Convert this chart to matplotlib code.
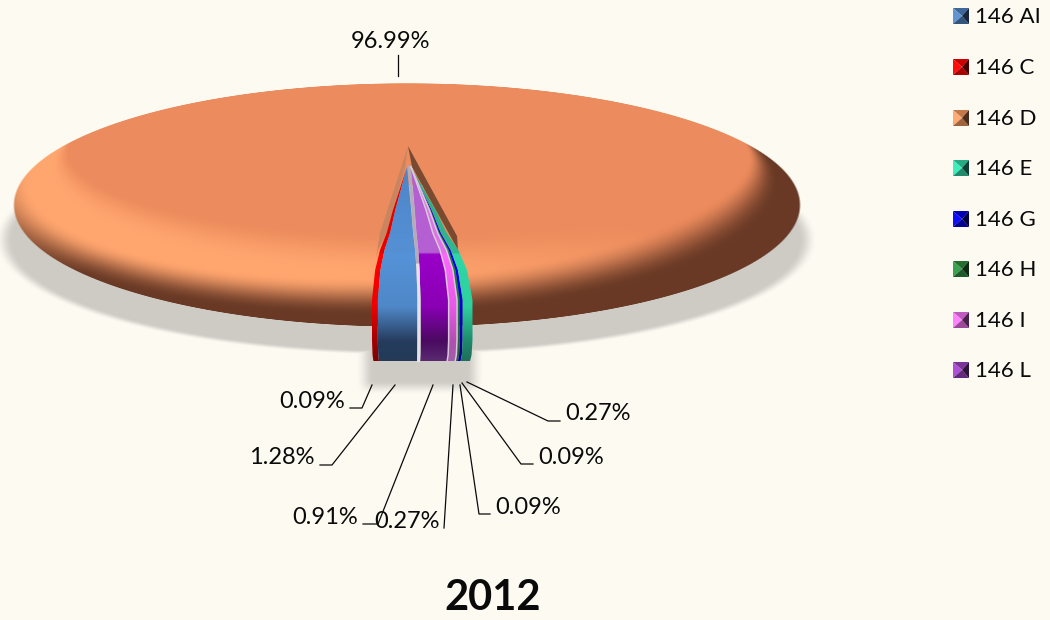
import numpy as np
import matplotlib
matplotlib.use("Agg")
import matplotlib.pyplot as plt
from matplotlib.colors import LinearSegmentedColormap, to_rgb
from matplotlib.patches import Polygon

plt.rcParams["font.family"] = ["Lato", "DejaVu Sans"]

series = ["146 AI", "146 C", "146 D", "146 E", "146 G", "146 H", "146 I", "146 L"]
shares = [1.28, 0.09, 96.99, 0.27, 0.09, 0.09, 0.27, 0.91]
legend_colors = ["#4f81bd", "#ff0000", "#f79660", "#2fd6a6", "#0000e0", "#2e8b40", "#f070f0", "#9a40c0"]
title = "2012"

# small slices, left to right along the front of the pie
front_order = ["146 C", "146 AI", "146 L", "146 I", "146 H", "146 G", "146 E"]
slice_stops = {
    "146 C": ["#e00000", "#e80000", "#ff0000", "#f00000", "#a00000", "#800000"],
    "146 AI": ["#4f85c8", "#5590d5", "#5592d8", "#4f88c8", "#263c5e", "#243a58"],
    "146 L": ["#b45fd2", "#b45fd2", "#9a00c8", "#8a00b4", "#4a0a60", "#5a2a70"],
    "146 I": ["#d77ae0", "#e070e8", "#ff66ff", "#e858e8", "#b050b0", "#a060a8"],
    "146 H": ["#2e8b40", "#2e8b40", "#1f7a30", "#1f7a30", "#2c5a35", "#2c5a35"],
    "146 G": ["#1010d8", "#1010d8", "#0000ff", "#0000e8", "#0000a0", "#0000a0"],
    "146 E": ["#2fa888", "#2fb890", "#2fd6a6", "#2fd0a0", "#1d8a6c", "#1f6e5a"],
}
end_pad = {"146 C": 3.0, "146 E": 1.5}

BG = "#fdfaf2"
INK = "#0a0a0a"
W, H = 1050, 620


def smooth(a, b, x):
    t = np.clip((x - a) / (b - a), 0, 1)
    return t * t * (3 - 2 * t)


fig = plt.figure(figsize=(W / 100, H / 100), dpi=100, facecolor=BG)
ax = fig.add_axes([0, 0, 1, 1])
ax.set_axis_off()

xx, yy = np.meshgrid(np.arange(W) + 0.5, np.arange(H) + 0.5)

# soft shadow under the disc and under the small slices
shadow = smooth(-0.02, 0.025, 1 - np.hypot((xx - 406) / 403, (yy - 240) / 113))
shadow2 = smooth(356, 374, xx) * smooth(484, 466, xx) * smooth(395, 380, yy) * smooth(340, 350, yy)
tex = np.zeros((H, W, 4))
tex[..., :3] = to_rgb("#cdcbc4")
tex[..., 3] = np.maximum(shadow, shadow2)
ax.imshow(tex, extent=(0, W, H, 0), aspect="auto", zorder=1)

# main slice: flat top with a bevelled rim
cx, cy, rx, ry = 407, 205, 394, 122
x0, y0, a, b = 405, 150, 335, 80
dx, dy = xx - x0, yy - y0
rho_in = np.hypot(dx / a, dy / b) + 1e-6
s_in = 1 / rho_in
qa = (dx / rx) ** 2 + (dy / ry) ** 2 + 1e-9
qb = 2 * ((x0 - cx) * dx / rx**2 + (y0 - cy) * dy / ry**2)
qc = ((x0 - cx) / rx) ** 2 + ((y0 - cy) / ry) ** 2 - 1
s_out = (-qb + np.sqrt(qb**2 - 4 * qa * qc)) / (2 * qa)
t = np.clip((1 - s_in) / (np.maximum(s_out - s_in, 0) + 0.05), 0, 1)
t[rho_in < 1] = 0
nx, ny = dx / a / rho_in, dy / b / rho_in

base = np.array(to_rgb("#ec8b5d"))
light = np.array(to_rgb("#ffa56e"))
dark = np.array(to_rgb("#6a3a26"))
lit = smooth(0, 0.4, t) * np.clip(0.9 * ny - 1.2 * nx, 0, 1)
shade = smooth(0.45 - 0.25 * nx, 0.8 - 0.2 * nx, t) * np.clip(0.9 * ny + 0.6 * nx + 0.55, 0, 1)
rgb = base + lit[..., None] * (light - base)
rgb = rgb + shade[..., None] * (dark - rgb)

main_share = shares[series.index("146 D")]
half_gap = np.radians((100 - main_share) * 3.6 / 2)
gap_angle = np.abs(np.arctan2((xx - 415) / rx, (yy - 147) / 181))
edge = np.clip((1 - np.hypot((xx - cx) / rx, (yy - cy) / ry)) * 200, 0, 1)
body = np.zeros((H, W, 4))
body[..., :3] = rgb
body[..., 3] = edge * ((gap_angle > half_gap) | (yy < 185))
ax.imshow(body, extent=(0, W, H, 0), aspect="auto", zorder=2)

# walls of the notch left by the small slices
ax.add_patch(Polygon([(408, 146), (380, 233), (376, 258), (378, 250), (387, 233), (405, 167)],
                     fc="#c98560", ec="none", zorder=3))
ax.add_patch(Polygon([(408, 146), (457, 236), (458, 250), (412, 167)],
                     fc="#7a4a30", ec="none", zorder=3))

# small slices, widths follow the shares
px_per_pct = 31
profile_y = [167, 210, 233, 250, 270, 300, 340, 355, 361]
profile_w = [0.0, 0.40, 0.58, 0.77, 0.91, 1.0, 1.0, 0.985, 0.96]
grad_y = [0, 0.44, 0.45, 0.72, 0.90, 1]
ys = np.linspace(167, 361, 90)
ws = np.interp(ys, profile_y, profile_w)

left = 372
edges = []
for name in front_order:
    width = shares[series.index(name)] * px_per_pct + end_pad.get(name, 0)
    edges.append((name, left, left + width))
    left += width + (3 if name == "146 AI" else 0)

for name, xl, xr in edges:
    al = 407 if xl < 420 else 411
    xs_l = al + (xl - al) * ws
    xs_r = al + (xr - al) * ws
    poly = Polygon(np.vstack([np.c_[xs_l, ys], np.c_[xs_r, ys][::-1]]), fc="none", ec="none", zorder=4)
    ax.add_patch(poly)
    cmap = LinearSegmentedColormap.from_list(name, list(zip(grad_y, slice_stops[name])), N=256)
    im = ax.imshow(np.linspace(0, 1, 256)[:, None], extent=(365, 480, 361, 167), aspect="auto",
                   cmap=cmap, zorder=4)
    im.set_clip_path(poly)

# pale lines between neighbouring slices
for name, xl, xr in edges:
    if name in ("146 AI", "146 L", "146 I"):
        al = 409 if name == "146 AI" else 411
        off = 1.5 if name == "146 AI" else 0
        lw = 2.2 if name == "146 AI" else 1.1
        line_x = al + (xr + off - al) * ws
        ax.plot(line_x, ys, color="#b4acbc" if name == "146 AI" else "#d8c8dc", lw=lw, zorder=5)
        if name == "146 AI":
            ax.plot(line_x[ys > 265], ys[ys > 265], color="#e4e2e4", lw=lw, zorder=5)

# data labels with leader lines
label_names = ["146 D", "146 C", "146 AI", "146 L", "146 I", "146 H", "146 G", "146 E"]
label_xy = [(351, 41), (345, 401), (315, 458), (358, 517), (440, 522), (495, 507), (538, 457), (565, 414)]
label_ha = ["left", "right", "right", "right", "right", "left", "left", "left"]
leaders = [
    [(398, 55), (398, 76)],
    [(350, 408), (362, 408), (372, 385)],
    [(320, 465), (332, 465), (395, 385)],
    [(363, 524), (378, 524), (433, 385)],
    [(444, 528), (453, 385)],
    [(490, 514), (479, 514), (460, 385)],
    [(533, 464), (521, 464), (462, 383)],
    [(560, 421), (548, 421), (467, 382)],
]
for name, pos, ha, line in zip(label_names, label_xy, label_ha, leaders):
    val = shares[series.index(name)]
    ax.text(pos[0], pos[1], f"{val:.2f}%", ha=ha, va="center", fontsize=17, color=INK, zorder=7)
    pts = np.array(line)
    ax.plot(pts[:, 0], pts[:, 1], color=INK, lw=0.9, zorder=6)

# legend with bevelled pyramid keys
legend_y = [16, 67, 118, 168, 219, 269, 320, 370]
for name, col, y in zip(series, legend_colors, legend_y):
    c = np.array(to_rgb(col))
    l, r, top, bot = 953, 969, y - 8, y + 8
    mid = ((l + r) / 2 + 1, y)
    ax.add_patch(Polygon([(l, top), (r, top), mid], fc=c * 0.8, ec="none", zorder=5))
    ax.add_patch(Polygon([(l, top), (l, bot), mid], fc=np.minimum(c * 1.05 + 0.05, 1), ec="none", zorder=5))
    ax.add_patch(Polygon([(l, bot), (r, bot), mid], fc=c * 0.65, ec="none", zorder=5))
    ax.add_patch(Polygon([(r, top), (r, bot), mid], fc=c * 0.3, ec="none", zorder=5))
    ax.text(975, y + 1, name, ha="left", va="center", fontsize=16, color=INK, zorder=7)

ax.text(493, 598, title, ha="center", va="center", fontsize=30, fontweight="bold", color=INK, zorder=7)

ax.set_xlim(0, W)
ax.set_ylim(H, 0)
fig.savefig("out.png", dpi=100, facecolor=BG)
